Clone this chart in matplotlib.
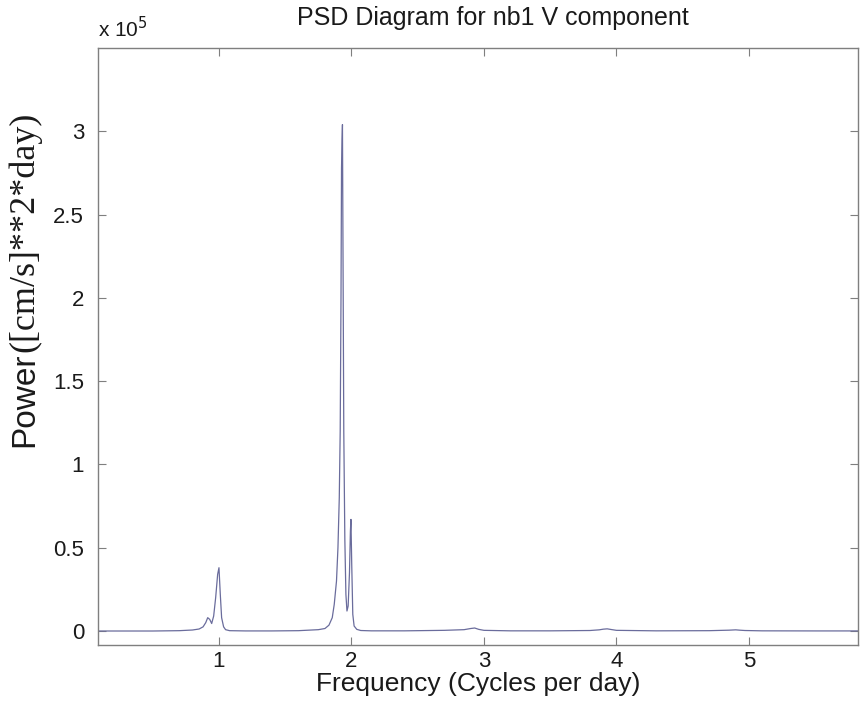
import matplotlib
matplotlib.use("Agg")
import matplotlib.pyplot as plt
from matplotlib.ticker import FuncFormatter

# Frequency (cycles per day) and PSD power ([cm/s]^2*day)
freq = [0.09, 0.30, 0.50, 0.70, 0.80, 0.85, 0.88, 0.90, 0.915, 0.93, 0.945,
        0.96, 0.975, 0.99, 1.00, 1.01, 1.02, 1.035, 1.05, 1.08, 1.20, 1.40,
        1.60, 1.75, 1.80, 1.83, 1.855, 1.87, 1.887, 1.898, 1.908, 1.915,
        1.921, 1.925, 1.929, 1.932, 1.936, 1.942, 1.950, 1.958, 1.966,
        1.975, 1.985, 1.992, 1.996, 2.002, 2.010, 2.020, 2.040, 2.070,
        2.15, 2.40, 2.70, 2.85, 2.90, 2.93, 2.96, 3.00, 3.20, 3.50, 3.80,
        3.87, 3.90, 3.93, 3.96, 4.00, 4.30, 4.70, 4.85, 4.90, 4.93, 4.97,
        5.10, 5.50, 5.82]
power = [0, 0, 0, 200, 600, 1200, 2500, 5000, 8000, 7000, 4500,
         9000, 20000, 34000, 38000, 22000, 8000, 2500, 800, 200, 50, 50,
         200, 800, 1500, 3500, 8000, 16000, 30000, 50000, 80000, 120000,
         200000, 278000, 295000, 304000, 230000, 120000, 55000, 22000, 12000,
         15000, 35000, 60000, 67000, 40000, 10000, 3000, 1000, 300,
         100, 100, 400, 800, 1500, 1800, 1000, 400, 100, 100, 300,
         700, 1100, 1300, 900, 400, 100, 200, 500, 700, 500, 300,
         100, 50, 50]

xticks = [1, 2, 3, 4, 5]
yticks = [0, 50000, 100000, 150000, 200000, 250000, 300000]

fig = plt.figure(figsize=(8.6, 7.19), dpi=100)
ax = fig.add_axes([98/860, 1 - 645/719, (858-98)/860, (645-48)/719])

ax.plot(freq, power, color='#6a6c9c', linewidth=0.9)

ax.set_xlim(0.087, 5.823)
ax.set_ylim(-8400, 350000)
ax.set_xticks(xticks)
ax.set_yticks(yticks)
ax.yaxis.set_major_formatter(FuncFormatter(lambda v, p: ('%g' % (v / 1e5))))

spine_col = '#7f7f7f'
for s in ax.spines.values():
    s.set_color(spine_col)
    s.set_linewidth(1.0)
ax.tick_params(direction='in', length=6, width=0.8, color=spine_col,
               top=True, right=True, labelsize=16, labelcolor='#1a1a1a')
ax.tick_params(axis='x', pad=4)
ax.tick_params(axis='y', pad=10)
for lab in ax.get_xticklabels() + ax.get_yticklabels():
    lab.set_family('Liberation Sans')

fig.text(493/860, 1 - 18/719, 'PSD Diagram for nb1 V component', fontsize=18,
         family='Liberation Sans', color='#1a1a1a', ha='center', va='center')
ax.set_xlabel('Frequency (Cycles per day)', fontsize=19,
              family='Liberation Sans', color='#1a1a1a', labelpad=0)
ax.text(0.0, 1.012, r'x 10$^{5}$', transform=ax.transAxes, fontsize=15,
        family='Liberation Sans', color='#1a1a1a', ha='left', va='bottom')

# y label with mixed fonts
t1 = fig.text(25/860, 1 - 447/719, 'Power', rotation=90, fontsize=24,
              family='Liberation Sans', color='#1a1a1a', ha='center', va='bottom')
fig.canvas.draw()
bb = t1.get_window_extent()
fig.text(25/860, (bb.y1 + 1) / fig.bbox.height, '([cm/s]**2*day)', rotation=90,
         fontsize=26, family='Liberation Serif', color='#1a1a1a',
         ha='center', va='bottom')

fig.savefig('out.png', dpi=100, facecolor='white')
